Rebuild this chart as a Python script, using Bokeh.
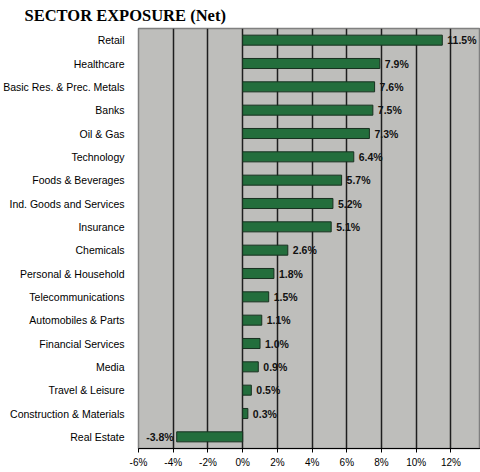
from bokeh.plotting import figure
from bokeh.models import ColumnDataSource, FixedTicker, PrintfTickFormatter, Range1d, FactorRange
from bokeh.core.properties import value
from bokeh.embed import file_html
from bokeh.resources import INLINE

sectors = ["Retail", "Healthcare", "Basic Res. & Prec. Metals", "Banks", "Oil & Gas",
           "Technology", "Foods & Beverages", "Ind. Goods and Services", "Insurance",
           "Chemicals", "Personal & Household", "Telecommunications", "Automobiles & Parts",
           "Financial Services", "Media", "Travel & Leisure", "Construction & Materials",
           "Real Estate"]
exposure = [11.5, 7.9, 7.6, 7.5, 7.3, 6.4, 5.7, 5.2, 5.1, 2.6, 1.8, 1.5, 1.1, 1.0, 0.9, 0.5, 0.3, -3.8]
x_ticks = [-6, -4, -2, 0, 2, 4, 6, 8, 10, 12]

labels = [f"{v:.1f}%" for v in exposure]
aligns = ["left" if v >= 0 else "right" for v in exposure]
offs = [5 if v >= 0 else -3 for v in exposure]

src = ColumnDataSource(dict(sector=sectors, val=exposure, lab=labels, al=aligns, off=offs))

p = figure(width=480, height=472, output_backend="svg", toolbar_location=None,
           y_range=FactorRange(factors=list(reversed(sectors)), range_padding=0),
           x_range=Range1d(-6.0, 13.7),
           min_border_left=133, min_border_right=0, min_border_top=10, min_border_bottom=24)

p.title.text = "SECTOR EXPOSURE (Net)"
p.title.text_font = "Liberation Serif"
p.title.text_font_style = "bold"
p.title.text_font_size = "16.5px"
p.title.text_color = "black"
p.title.align = "left"
p.title.offset = -114
p.title.standoff = 7

p.background_fill_color = "#bebebb"
p.border_fill_color = "white"
p.outline_line_color = "#808080"
p.outline_line_width = 1.5

p.hbar(y="sector", right="val", left=0, height=0.43, source=src,
       fill_color="#236e3c", line_color="#17301f", line_width=1)

p.text(x="val", y="sector", text="lab", source=src, text_align="al", x_offset="off",
       text_baseline="middle", text_font=value("Liberation Sans"), text_font_style="bold",
       text_font_size="10.5px", text_color="#111111")

p.xgrid.ticker = FixedTicker(ticks=x_ticks)
p.xgrid.grid_line_color = "#1e1e1e"
p.xgrid.grid_line_width = 1.5
p.ygrid.grid_line_color = None

p.xaxis.ticker = FixedTicker(ticks=x_ticks)
p.xaxis.formatter = PrintfTickFormatter(format="%d%%")
p.xaxis.axis_line_color = "black"
p.xaxis.major_tick_line_color = "black"
p.xaxis.major_tick_out = 4
p.xaxis.major_tick_in = 0
p.xaxis.minor_tick_line_color = None
p.xaxis.major_label_text_font = "Liberation Sans"
p.xaxis.major_label_text_font_size = "10px"
p.xaxis.major_label_text_color = "black"
p.xaxis.major_label_standoff = 4

p.yaxis.axis_line_color = None
p.yaxis.major_tick_line_color = None
p.yaxis.minor_tick_line_color = None
p.yaxis.major_label_text_font = "Liberation Sans"
p.yaxis.major_label_text_font_size = "10.5px"
p.yaxis.major_label_text_color = "black"
p.yaxis.major_label_standoff = 8

open("out.html", "w").write(file_html(p, INLINE))
